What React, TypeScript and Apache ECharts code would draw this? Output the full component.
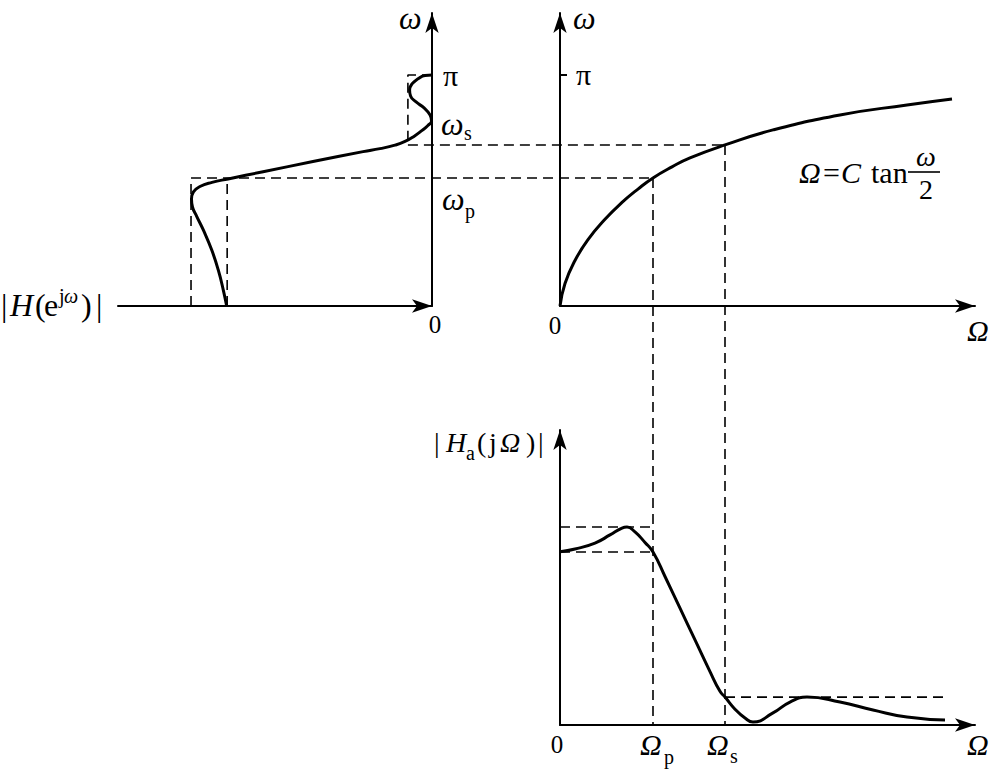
import React, { useEffect, useRef } from 'react';
import * as echarts from 'echarts';

// ---- band edges (ω in units of π, Ω and magnitudes in arbitrary units) ----
const PI_TICK = [1];
const OMEGA_P = 0.554;
const OMEGA_S = 0.697;
const CAP_OMEGA_P = 0.93;
const CAP_OMEGA_S = 1.65;
const H_PASS = [1.0, 0.85];
const H_STOP = 0.1;
const HA_PASS = [1.0, 0.874];
const HA_STOP = 0.141;
const HA_STOP_END = 3.85;

// ---- digital response |H(e^jω)| (horizontal, pointing left) vs ω/π ----
const digitalMag = [0.852, 0.866, 0.887, 0.914, 0.949, 0.976, 0.994, 0.998, 0.99, 0.963, 0.913, 0.846, 0.701, 0.494, 0.286, 0.216, 0.154, 0.112, 0.075, 0.041, 0.017, 0.002, 0.008, 0.033, 0.066, 0.089, 0.093, 0.083, 0.058, 0.029, 0];
const digitalOmega = [0, 0.069, 0.156, 0.242, 0.329, 0.387, 0.429, 0.463, 0.494, 0.517, 0.535, 0.55, 0.581, 0.625, 0.668, 0.681, 0.696, 0.712, 0.734, 0.76, 0.781, 0.801, 0.827, 0.857, 0.883, 0.909, 0.935, 0.961, 0.983, 0.998, 1.0];

// ---- bilinear mapping ω vs Ω ----
const bilinCapOmega = [0, 0.05, 0.15, 0.28, 0.45, 0.62, 0.78, 0.93, 1.12, 1.3, 1.65, 2.13, 2.8, 3.47, 3.92];
const bilinOmega = [0, 0.097, 0.197, 0.287, 0.375, 0.448, 0.506, 0.554, 0.602, 0.641, 0.697, 0.762, 0.827, 0.87, 0.896];

// ---- analog response |Ha(jΩ)| ----
const analogCapOmega = [0, 0.15, 0.35, 0.5, 0.62, 0.67, 0.75, 0.85, 0.93, 1.05, 1.2, 1.35, 1.5, 1.6, 1.65, 1.75, 1.85, 1.93, 2.13, 2.3, 2.47, 2.8, 3.13, 3.47, 3.85];
const analogMag = [0.875, 0.889, 0.919, 0.96, 0.995, 1.0, 0.975, 0.922, 0.874, 0.75, 0.59, 0.43, 0.27, 0.17, 0.141, 0.08, 0.035, 0.015, 0.061, 0.116, 0.141, 0.116, 0.076, 0.04, 0.025];

const SERIF = "'Liberation Serif', 'Times New Roman', serif";
const INK = '#000';

const zip = (a: number[], b: number[]) => a.map((v, i) => [v, b[i]]);

function txt(x: number, y: number, text: string, size: number, italic = false, align: string = 'left') {
  return {
    type: 'text',
    x,
    y,
    z: 20,
    silent: true,
    style: {
      text,
      font: `${italic ? 'italic ' : ''}${size}px ${SERIF}`,
      fill: INK,
      align,
      verticalAlign: 'middle',
      legacy: false,
    },
  };
}

const axisLineStyle = {
  show: true,
  onZero: true,
  symbol: ['none', 'arrow'],
  symbolSize: [10, 20],
  lineStyle: { color: INK, width: 2 },
};

const dashed = { color: INK, width: 1.6, type: [10, 6] as any };
const solid = { color: INK, width: 3 };

function dashSeries(grid: number, data: number[][]) {
  return {
    type: 'line',
    xAxisIndex: grid,
    yAxisIndex: grid,
    data,
    showSymbol: false,
    symbol: 'none',
    lineStyle: dashed,
    silent: true,
    z: 1,
  };
}

function curveSeries(grid: number, data: number[][]) {
  return {
    type: 'line',
    xAxisIndex: grid,
    yAxisIndex: grid,
    data,
    showSymbol: false,
    symbol: 'none',
    smooth: 0.5,
    lineStyle: solid,
    silent: true,
    z: 3,
  };
}

export default function App() {
  const ref = useRef<HTMLDivElement>(null);
  useEffect(() => {
    if (!ref.current) return;
    const chart = echarts.init(ref.current, undefined, { renderer: 'svg' });
    const hidden = { show: false };
    const option: any = {
      animation: false,
      backgroundColor: '#fff',
      textStyle: { fontFamily: SERIF },
      grid: [
        { left: 118, top: 13, width: 314, height: 293, outerBoundsMode: 'none' },
        { left: 560, top: 13, width: 415, height: 293, outerBoundsMode: 'none' },
        { left: 560, top: 430, width: 415, height: 295, outerBoundsMode: 'none' },
      ],
      xAxis: [
        { type: 'value', gridIndex: 0, min: 0, max: 1.303, inverse: true, axisLine: axisLineStyle, axisTick: hidden, axisLabel: hidden, splitLine: hidden },
        { type: 'value', gridIndex: 1, min: 0, max: 4.15, axisLine: axisLineStyle, axisTick: hidden, axisLabel: hidden, splitLine: hidden },
        { type: 'value', gridIndex: 2, min: 0, max: 4.15, axisLine: axisLineStyle, axisTick: hidden, axisLabel: hidden, splitLine: hidden },
      ],
      yAxis: [
        { type: 'value', gridIndex: 0, min: 0, max: 1.268, position: 'right', axisLine: axisLineStyle, axisTick: hidden, axisLabel: hidden, splitLine: hidden },
        {
          type: 'value', gridIndex: 1, min: 0, max: 1.268, axisLine: axisLineStyle,
          axisTick: { show: true, inside: true, length: 7, customValues: PI_TICK, lineStyle: { color: INK, width: 2 } },
          axisLabel: hidden, splitLine: hidden,
        },
        { type: 'value', gridIndex: 2, min: 0, max: 1.49, axisLine: axisLineStyle, axisTick: hidden, axisLabel: hidden, splitLine: hidden },
      ],
      series: [
        dashSeries(0, [[H_PASS[0], 0], [H_PASS[0], OMEGA_P]]),
        dashSeries(0, [[H_PASS[1], 0], [H_PASS[1], OMEGA_P]]),
        dashSeries(0, [[0, PI_TICK[0]], [H_STOP, PI_TICK[0]], [H_STOP, OMEGA_S]]),
        curveSeries(0, zip(digitalMag, digitalOmega)),
        curveSeries(1, zip(bilinCapOmega, bilinOmega)),
        dashSeries(2, [[0, HA_PASS[0]], [CAP_OMEGA_P, HA_PASS[0]]]),
        dashSeries(2, [[0, HA_PASS[1]], [CAP_OMEGA_P, HA_PASS[1]]]),
        dashSeries(2, [[CAP_OMEGA_S, HA_STOP], [HA_STOP_END, HA_STOP]]),
        curveSeries(2, zip(analogCapOmega, analogMag)),
      ],
    };
    chart.setOption(option);

    const px = (g: number, v: number[]) => chart.convertToPixel({ gridIndex: g } as any, v) as number[];
    const dline = (a: number[], b: number[]) => ({
      type: 'line',
      silent: true,
      z: 1,
      shape: { x1: a[0], y1: a[1], x2: b[0], y2: b[1] },
      style: { stroke: INK, lineWidth: 1.6, lineDash: [10, 6] },
    });

    const graphics: any[] = [
      dline(px(0, [H_PASS[0], OMEGA_P]), px(1, [CAP_OMEGA_P, OMEGA_P])),
      dline(px(0, [H_STOP, OMEGA_S]), px(1, [CAP_OMEGA_S, OMEGA_S])),
      dline(px(1, [CAP_OMEGA_P, OMEGA_P]), px(2, [CAP_OMEGA_P, 0])),
      dline(px(1, [CAP_OMEGA_S, OMEGA_S]), px(2, [CAP_OMEGA_S, 0])),
      // top-left labels
      txt(399, 18, 'ω', 32, true),
      txt(443, 75, 'π', 30),
      txt(441, 124, 'ω', 32, true),
      txt(464, 133, 's', 20),
      txt(442, 199, 'ω', 32, true),
      txt(465, 211, 'p', 20),
      txt(435, 324, '0', 25, false, 'center'),
      txt(1, 305, '|', 32),
      txt(10, 305, 'H', 32, true),
      txt(35, 305, '(', 32),
      txt(44, 305, 'e', 32),
      txt(59, 296, 'j', 20),
      txt(64, 296, 'ω', 20, true),
      txt(81, 305, ')', 32),
      txt(96, 305, '|', 32),
      // top-right labels
      txt(573, 18, 'ω', 32, true),
      txt(576, 74, 'π', 30),
      txt(555, 325, '0', 25, false, 'center'),
      txt(967, 330, 'Ω', 30, true),
      txt(799, 172, 'Ω', 30, true),
      txt(823, 172, '=', 30),
      txt(841, 172, 'C', 30, true),
      txt(871, 172, 'tan', 30),
      txt(926, 156, 'ω', 28, true, 'center'),
      txt(926, 189, '2', 28, false, 'center'),
      {
        type: 'line', silent: true, z: 20,
        shape: { x1: 908, y1: 172, x2: 940, y2: 172 },
        style: { stroke: INK, lineWidth: 1.6 },
      },
      // bottom labels
      txt(434, 442, '|', 28),
      txt(446, 442, 'H', 28, true),
      txt(466, 453, 'a', 20),
      txt(477, 442, '(', 28),
      txt(489, 442, 'j', 28),
      txt(500, 442, 'Ω', 28, true),
      txt(526, 442, ')', 28),
      txt(538, 442, '|', 28),
      txt(557, 744, '0', 25, false, 'center'),
      txt(640, 744, 'Ω', 30, true),
      txt(664, 757, 'p', 20),
      txt(707, 744, 'Ω', 30, true),
      txt(730, 756, 's', 20),
      txt(967, 744, 'Ω', 30, true),
    ];
    chart.setOption({ graphic: graphics });

    return () => chart.dispose();
  }, []);

  return (
    <div
      ref={ref}
      style={{ position: 'fixed', left: 0, top: 0, width: 992, height: 770, background: '#fff' }}
    />
  );
}
